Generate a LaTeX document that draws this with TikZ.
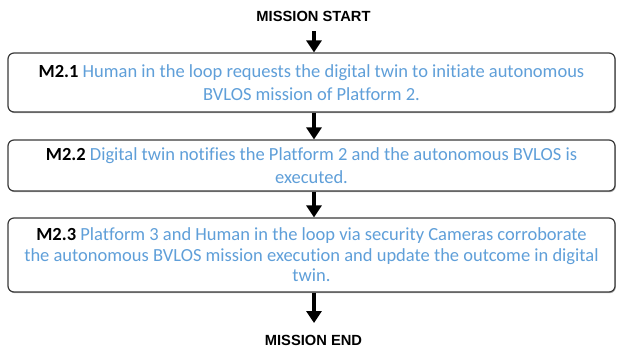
\documentclass[tikz,border=0pt]{standalone}
\usepackage{fontspec}
\setmainfont{Carlito}[Ligatures=NoCommon]
\newfontfamily\labelfont{Liberation Sans}
\usetikzlibrary{arrows.meta,shadows}
\definecolor{txtblue}{HTML}{5F9FD9}
\definecolor{boxline}{HTML}{3A3A3A}
\tikzset{
  stepbox/.style={draw=boxline, line width=1.2pt, rounded corners=6pt, fill=white,
    drop shadow={shadow xshift=0.8pt, shadow yshift=-1.2pt, opacity=0.45, fill=black!70},
    minimum width=607pt, align=center, inner sep=0pt,
    font=\fontsize{18.5}{23}\selectfont, text=txtblue},
  endlabel/.style={font=\labelfont\bfseries\fontsize{14.7}{17}\selectfont, text=black},
  flow/.style={line width=4pt, -{Triangle[width=15pt,length=12pt]}, black}
}
\begin{document}
\begin{tikzpicture}[x=1pt,y=1pt]
\useasboundingbox (0,0) rectangle (617,-349);
\node[endlabel] (start) at (313.5,-16) {MISSION START};
\node[stepbox, minimum height=59pt] (b1) at (311.5,-82.5)
  {\textcolor{black}{\bfseries M2.1} Human in the loop requests the digital twin to initiate autonomous\\BVLOS mission of Platform 2.};
\node[stepbox, minimum height=51pt] (b2) at (311.5,-165.5)
  {\textcolor{black}{\bfseries M2.2} Digital twin notifies the Platform 2 and the autonomous BVLOS is\\executed.};
\node[stepbox, minimum height=74pt, font=\fontsize{18.5}{20.5}\selectfont] (b3) at (311.5,-255)
  {\textcolor{black}{\bfseries M2.3} Platform 3 and Human in the loop via security Cameras corroborate\\the autonomous BVLOS mission execution and update the outcome in digital\\twin.};
\node[endlabel] (end) at (313.5,-340) {MISSION END};
\coordinate (a0) at (314,-31);
\coordinate (a4) at (314,-323);
\draw[flow] (a0) -- ([xshift=2.5pt]b1.north);
\draw[flow] ([xshift=2.5pt]b1.south) -- ([xshift=2.5pt]b2.north);
\draw[flow] ([xshift=2.5pt]b2.south) -- ([xshift=2.5pt]b3.north);
\draw[flow] ([xshift=2.5pt]b3.south) -- (a4);
\end{tikzpicture}
\end{document}
